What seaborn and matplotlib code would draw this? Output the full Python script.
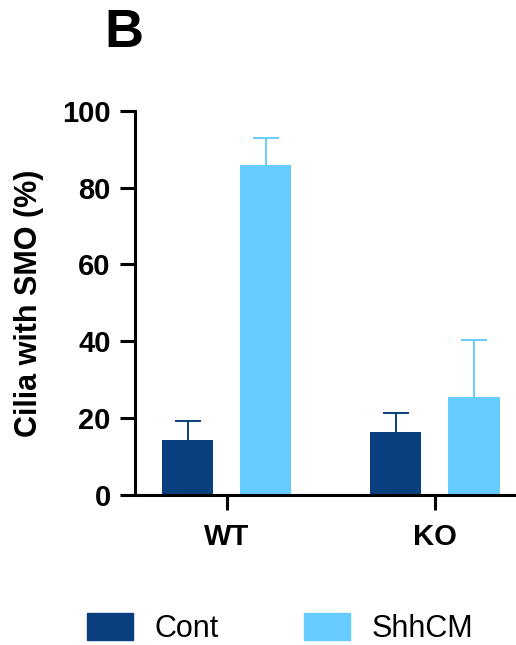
import pandas as pd
import seaborn as sns
import matplotlib.pyplot as plt

# values
genotypes = ["WT", "KO"]
treatments = ["Cont", "ShhCM"]
cont_mean = [14.4, 16.4]
cont_err = [4.9, 5.0]
shh_mean = [85.9, 25.4]
shh_err = [7.1, 14.9]

colors = {"Cont": "#0A3F7F", "ShhCM": "#66CCFF"}

df = pd.DataFrame({
    "genotype": genotypes * 2,
    "treatment": ["Cont"] * 2 + ["ShhCM"] * 2,
    "value": cont_mean + shh_mean,
})
errs = {"Cont": cont_err, "ShhCM": shh_err}

sns.set_style("ticks")
plt.rcParams["font.family"] = ["Liberation Sans", "DejaVu Sans"]
plt.rcParams["text.color"] = "black"

fig = plt.figure(figsize=(5.16, 6.45), dpi=100)
ax = fig.add_axes([0.2616, 0.2326, 0.75, 0.5958])

sns.barplot(data=df, x="genotype", y="value", hue="treatment",
            order=genotypes, hue_order=treatments, palette=colors,
            width=0.75, gap=0.336, errorbar=None, ax=ax, legend=False,
            saturation=1, linewidth=0)

# upper-only error bars, same colour as the bars
for cont, trt in zip(ax.containers, treatments):
    xs = [p.get_x() + p.get_width() / 2 for p in cont]
    hs = [p.get_height() for p in cont]
    eb = ax.errorbar(xs, hs, yerr=[[0] * len(hs), errs[trt]], fmt="none",
                     ecolor=colors[trt], elinewidth=1.4, capsize=9.5,
                     capthick=1.4, zorder=1)
    eb[1][0].set_visible(False)  # hide the lower cap

ax.set_ylim(0, 100)
ax.set_yticks([0, 20, 40, 60, 80, 100])
ax.set_xlim(-0.44, 1.42)
sns.despine(ax=ax)
for side in ["left", "bottom"]:
    ax.spines[side].set_linewidth(2.2)
    ax.spines[side].set_color("black")
ax.tick_params(axis="both", length=10.5, width=2.2, colors="black",
               labelsize=21)
ax.tick_params(axis="y", pad=7)
ax.tick_params(axis="x", pad=10)
for lab in ax.get_xticklabels() + ax.get_yticklabels():
    lab.set_fontweight("bold")
ax.set_xlabel("")
ax.set_ylabel("Cilia with SMO (%)", fontsize=22, fontweight="bold",
              labelpad=13, color="black")

handles = [plt.Rectangle((0, 0), 1, 1, color=colors[t]) for t in treatments]
fig.legend(handles, treatments, loc="center", bbox_to_anchor=(0.543, 0.026),
           ncol=2, frameon=False, fontsize=22, handlelength=1.5,
           handleheight=1.0, handletextpad=0.7, columnspacing=2.8,
           labelcolor="black")

fig.text(0.203, 0.949, "B", fontsize=39, fontweight="bold", ha="left",
         va="center", color="black")

fig.savefig("out.png", dpi=100)
